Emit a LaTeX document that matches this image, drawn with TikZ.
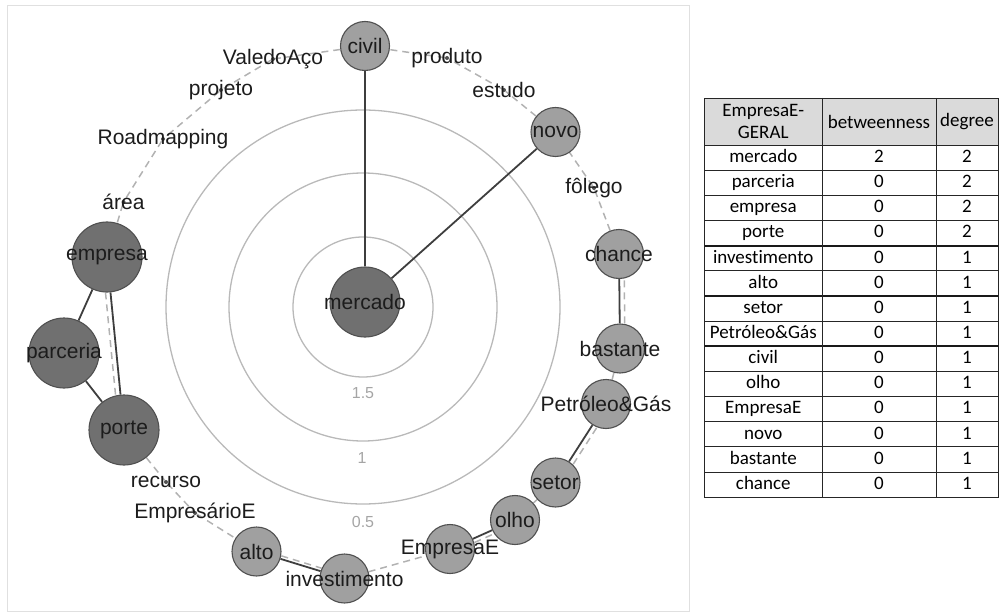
\documentclass[tikz,border=0pt]{standalone}
\usepackage{fontspec}
\setmainfont{Liberation Sans}
\newfontfamily\tablefont[Ligatures=NoCommon]{Carlito}
\usetikzlibrary{calc}

\definecolor{ringgray}{RGB}{185,185,185}
\definecolor{dashgray}{RGB}{178,178,178}
\definecolor{edgegray}{RGB}{62,62,62}
\definecolor{nodeborder}{RGB}{80,80,80}
\definecolor{smallfill}{RGB}{160,160,160}
\definecolor{bigfill}{RGB}{112,112,112}
\definecolor{scalegray}{RGB}{165,165,165}
\definecolor{headfill}{RGB}{218,218,218}
\definecolor{framegray}{RGB}{224,224,224}
\definecolor{inkgray}{RGB}{28,28,28}

\pgfdeclarelayer{rings}
\pgfdeclarelayer{links}
\pgfsetlayers{rings,links,main}

\begin{document}
\begin{tikzpicture}[x=1pt,y=-1pt,
  smallnode/.style={circle, draw=nodeborder, line width=1.1pt, fill=smallfill,
    minimum size=49pt, inner sep=0pt},
  bignode/.style={circle, draw=nodeborder, line width=1.1pt, fill=bigfill,
    minimum size=70pt, inner sep=0pt},
  tinynode/.style={circle, fill=nodeborder, minimum size=4pt, inner sep=0pt},
  word/.style={font=\fontsize{21}{25}\selectfont, text=inkgray, inner sep=0pt},
  ringline/.style={draw=ringgray, line width=1.3pt},
  scalelabel/.style={font=\fontsize{16}{19}\selectfont, text=scalegray, inner sep=0pt},
  orderlink/.style={draw=dashgray, line width=1.5pt, dash pattern=on 7pt off 5pt},
  edgelink/.style={draw=edgegray, line width=1.8pt},
  cell/.style={font=\tablefont\fontsize{19}{21}\selectfont, text=black, inner sep=0pt},
  gridline/.style={draw=black!85, line width=0.9pt},
  heavyline/.style={draw=black!90, line width=1.8pt}
]
\useasboundingbox (0,0) rectangle (1000,612);

% ---------------- left panel: circular network ----------------
\node[bignode]   (mercado)      at (365,302)   {};
\node[smallnode] (civil)        at (365,46)    {};
\node[smallnode] (novo)         at (555.5,132) {};
\node[smallnode] (chance)       at (619,254)   {};
\node[smallnode] (bastante)     at (620,348.5) {};
\node[smallnode] (petroleo)     at (606,404)   {};
\node[smallnode] (setor)        at (555.5,482.5) {};
\node[smallnode] (olho)         at (515,520)   {};
\node[smallnode] (empresaE)     at (450,549)   {};
\node[smallnode] (investimento) at (344.5,578.5) {};
\node[smallnode] (alto)         at (256.5,551.5) {};
\node[bignode]   (porte)        at (124,430)   {};
\node[bignode]   (parceria)     at (64,353)    {};
\node[bignode]   (empresa)      at (107,257)   {};

% isolated words: tiny nodes carrying a label
\node[tinynode] (valedoaco)   at (273,59)    {};
\node[tinynode] (projeto)     at (221,90)    {};
\node[tinynode] (roadmapping) at (163,139)   {};
\node[tinynode] (area)        at (123.5,202) {};
\node[tinynode] (produto)     at (447,58)    {};
\node[tinynode] (estudo)      at (504,90)    {};
\node[tinynode] (folego)      at (594,188)   {};
\node[tinynode] (recurso)     at (166,482)   {};
\node[tinynode] (empresario)  at (195,513)   {};

% labels on top of the markers
\node[word] at (mercado)      {mercado};
\node[word] at (civil)        {civil};
\node[word] at (novo)         {novo};
\node[word] at (chance)       {chance};
\node[word] at (bastante)     {bastante};
\node[word] at (petroleo)     {Petróleo\&Gás};
\node[word] at (setor)        {setor};
\node[word] at (olho)         {olho};
\node[word] at (empresaE)     {EmpresaE};
\node[word] at (investimento) {investimento};
\node[word] at (alto)         {alto};
\node[word] at (porte)        {porte};
\node[word] at (parceria)     {parceria};
\node[word] at (empresa)      {empresa};
\node[word] at (valedoaco)    {ValedoAço};
\node[word] at (projeto)      {projeto};
\node[word] at (roadmapping)  {Roadmapping};
\node[word] at (area)         {área};
\node[word] at (produto)      {produto};
\node[word] at (estudo)       {estudo};
\node[word] at (folego)       {fôlego};
\node[word] at (recurso)      {recurso};
\node[word] at (empresario)   {EmpresárioE};

\begin{pgfonlayer}{rings}
  \draw[draw=framegray, line width=1pt] (7,6) rectangle (689,611);
  \coordinate (hub) at (363,307);
  \draw[ringline] (hub) circle[radius=70];
  \draw[ringline] (hub) circle[radius=134];
  \draw[ringline] (hub) circle[radius=197];
  \node[scalelabel] (s15) at (363,393) {1.5};
  \node[scalelabel] (s10) at (362,458) {1};
  \node[scalelabel] (s05) at (363,522) {0.5};
\end{pgfonlayer}

\begin{pgfonlayer}{links}
  % layout order around the circle
  \draw[orderlink] (civil) -- (valedoaco) -- (projeto) -- (roadmapping)
        -- (area) -- (empresa);
  \draw[orderlink, transform canvas={xshift=-5pt}] (empresa) -- (porte);
  \draw[orderlink] (porte) -- (recurso) -- (empresario) -- (alto);
  \draw[orderlink, transform canvas={xshift=0.9pt, yshift=3pt}] (alto) -- (investimento);
  \draw[orderlink] (investimento) -- (empresaE);
  \draw[orderlink, transform canvas={xshift=1.6pt, yshift=-3.7pt}] (empresaE) -- (olho);
  \draw[orderlink] (olho) -- (setor);
  \draw[orderlink, transform canvas={xshift=4.2pt, yshift=-2.7pt}] (setor) -- (petroleo);
  \draw[orderlink] (petroleo) -- (bastante);
  \draw[orderlink, transform canvas={xshift=5pt}] (bastante) -- (chance);
  \draw[orderlink] (chance) -- (folego) -- (novo) -- (estudo) -- (produto) -- (civil);
  % co-occurrence edges
  \draw[edgelink] (mercado) -- (civil);
  \draw[edgelink] (mercado) -- (novo);
  \draw[edgelink] (empresa) -- (parceria);
  \draw[edgelink] (empresa) -- (porte);
  \draw[edgelink] (parceria) -- (porte);
  \draw[edgelink] (chance) -- (bastante);
  \draw[edgelink] (petroleo) -- (setor);
  \draw[edgelink] (olho) -- (empresaE);
  \draw[edgelink] (alto) -- (investimento);
\end{pgfonlayer}

% ---------------- right panel: centrality table ----------------
\def\tl{704.5}\def\ca{822}\def\cb{936}\def\tr{998}
\def\ttop{98}\def\thead{145}\def\rowh{25.15}
\fill[headfill] (\tl,\ttop) rectangle (\tr,\thead);
\node[cell, align=center] (hname) at ({(\tl+\ca)/2},121.5) {EmpresaE-\\[1pt]GERAL};
\node[cell] (hbet) at ({(\ca+\cb)/2},121.5) {betweenness};
\node[cell] (hdeg) at ({(\cb+\tr)/2},121.5) {degree};

\foreach \term/\bet/\deg [count=\i] in {mercado/2/2, parceria/0/2, empresa/0/2,
    porte/0/2, investimento/0/1, alto/0/1, setor/0/1, Petróleo\&Gás/0/1,
    civil/0/1, olho/0/1, EmpresaE/0/1, novo/0/1, bastante/0/1, chance/0/1}{
  \pgfmathsetmacro{\yc}{\thead+(\i-0.5)*\rowh}
  \node[cell] (t\i) at ({(\tl+\ca)/2},\yc) {\vphantom{Aqj}\term};
  \node[cell] (b\i) at ({(\ca+\cb)/2},\yc) {\vphantom{Aqj}\bet};
  \node[cell] (d\i) at ({(\cb+\tr)/2},\yc) {\vphantom{Aqj}\deg};
}

% grid
\foreach \i in {1,2,3,5,7,9,10,11,12,13}{
  \draw[gridline] (\tl,{\thead+\i*\rowh}) -- (\tr,{\thead+\i*\rowh});
}
\foreach \i in {4,6,8}{
  \draw[heavyline] (\tl,{\thead+\i*\rowh}) -- (\tr,{\thead+\i*\rowh});
}
\draw[gridline] (\tl,\thead) -- (\tr,\thead);
\draw[gridline] (\ca,\ttop) -- (\ca,{\thead+14*\rowh});
\draw[gridline] (\cb,\ttop) -- (\cb,{\thead+14*\rowh});
\draw[gridline] (\tl,\ttop) rectangle (\tr,{\thead+14*\rowh});
\end{tikzpicture}
\end{document}
